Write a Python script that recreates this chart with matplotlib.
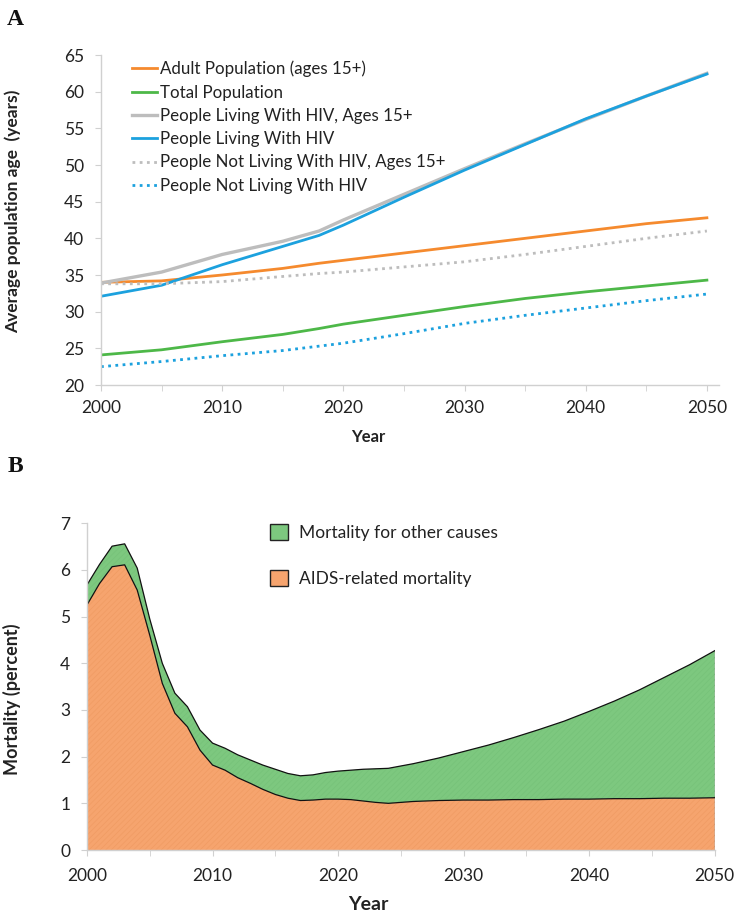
import numpy as np
import matplotlib.pyplot as plt
from matplotlib.patches import Patch

plt.rcParams['font.family'] = ['Lato', 'DejaVu Sans']
plt.rcParams['hatch.linewidth'] = 0.5

# Panel A: average age by population group
years_a = [2000, 2005, 2010, 2015, 2018, 2020, 2025, 2030, 2035, 2040, 2045, 2050]
adult_pop = [34.0, 34.2, 35.0, 35.9, 36.6, 37.0, 38.0, 39.0, 40.0, 41.0, 42.0, 42.8]
total_pop = [24.1, 24.8, 25.9, 26.9, 27.7, 28.3, 29.5, 30.7, 31.8, 32.7, 33.5, 34.3]
plhiv_15 = [33.9, 35.4, 37.8, 39.6, 41.0, 42.5, 46.0, 49.5, 52.9, 56.2, 59.4, 62.5]
plhiv_all = [32.1, 33.6, 36.4, 38.9, 40.4, 41.8, 45.6, 49.3, 52.8, 56.3, 59.4, 62.4]
not_hiv_15 = [33.8, 33.8, 34.1, 34.8, 35.2, 35.4, 36.1, 36.8, 37.8, 38.9, 40.0, 41.0]
not_hiv_all = [22.5, 23.2, 24.0, 24.7, 25.3, 25.7, 27.0, 28.4, 29.5, 30.5, 31.5, 32.4]

# Panel B: mortality among people living with HIV (percent)
years_b = list(range(2000, 2025)) + list(range(2026, 2051, 2))
aids_mort = [5.25, 5.71, 6.07, 6.11, 5.57, 4.60, 3.57, 2.93, 2.64, 2.14,
             1.82, 1.71, 1.55, 1.43, 1.30, 1.19, 1.11, 1.06, 1.07, 1.09,
             1.09, 1.08, 1.05, 1.02, 1.00,
             1.04, 1.06, 1.07, 1.07, 1.08, 1.08, 1.09, 1.09, 1.10, 1.10, 1.11, 1.11, 1.12]
other_mort = [0.43, 0.41, 0.44, 0.45, 0.47, 0.35, 0.43, 0.43, 0.43, 0.43,
              0.47, 0.47, 0.49, 0.50, 0.52, 0.54, 0.53, 0.53, 0.54, 0.57,
              0.60, 0.63, 0.68, 0.72, 0.75,
              0.81, 0.91, 1.04, 1.18, 1.33, 1.50, 1.67, 1.88, 2.09, 2.33, 2.59, 2.86, 3.15]

orange = '#F58A2E'
green = '#4DB848'
grey = '#BDBDBD'
blue = '#1CA1DE'
fill_orange = '#F6A46E'
fill_green = '#7DC87F'
spine_col = '#D0D0D0'
text_col = '#222222'

fig = plt.figure(figsize=(7.34, 9.13), dpi=100)

# ---- Panel A ----
ax1 = fig.add_axes([101 / 734, 1 - 385 / 913, 618 / 734, 330 / 913])
lw = 2.0
dot = (0, (1, 1.6))
ax1.plot(years_a, adult_pop, color=orange, lw=lw, label='Adult Population (ages 15+)')
ax1.plot(years_a, total_pop, color=green, lw=lw, label='Total Population')
ax1.plot(years_a, plhiv_15, color=grey, lw=lw + 0.4, label='People Living With HIV, Ages 15+')
ax1.plot(years_a, plhiv_all, color=blue, lw=lw, label='People Living With HIV')
ax1.plot(years_a, not_hiv_15, color=grey, lw=lw, ls=dot, label='People Not Living With HIV, Ages 15+')
ax1.plot(years_a, not_hiv_all, color=blue, lw=lw, ls=dot, label='People Not Living With HIV')

ax1.set_xlim(2000, 2051)
ax1.set_ylim(20, 65)
ax1.set_xticks([2000, 2010, 2020, 2030, 2040, 2050])
ax1.set_xticks(range(2005, 2050, 10), minor=True)
ax1.set_yticks(range(20, 66, 5))

leg = ax1.legend(loc='upper left', bbox_to_anchor=(0.04, 1.003), frameon=False,
                 fontsize=12.2, handlelength=1.45, handletextpad=0.2,
                 labelspacing=0.43, borderaxespad=0)
for t in leg.get_texts():
    t.set_color(text_col)

ax1.set_xlabel('Year', fontsize=12, fontweight='bold', color=text_col)
ax1.xaxis.set_label_coords(0.432, -0.133)
ax1.set_ylabel('Average population age  (years)', fontsize=12.5, fontweight='bold', color=text_col)
ax1.yaxis.set_label_coords(-0.13, 0.527)

# ---- Panel B ----
ax2 = fig.add_axes([87 / 734, 1 - 850 / 913, 627.7 / 734, 326.7 / 913])
stack = np.vstack([aids_mort, other_mort])
polys = ax2.stackplot(years_b, stack, colors=[fill_orange, fill_green],
                      edgecolor='none', linewidth=0)
polys[0].set_hatch('//////')
polys[0].set_edgecolor('#F09B63')
polys[1].set_hatch('//////')
polys[1].set_edgecolor('#76C279')
top = np.add(aids_mort, other_mort)
ax2.plot(years_b, aids_mort, color='#111111', lw=0.9)
ax2.plot(years_b, top, color='#111111', lw=0.9)
ax2.plot([2050, 2050], [0, top[-1]], color='#111111', lw=0.9)

ax2.set_xlim(2000, 2050)
ax2.set_ylim(0, 7)
ax2.set_xticks([2000, 2010, 2020, 2030, 2040, 2050])
ax2.set_xticks(range(2005, 2050, 10), minor=True)
ax2.set_yticks(range(0, 8))

handles = [Patch(facecolor=fill_green, edgecolor='#222222', lw=1.0),
           Patch(facecolor=fill_orange, edgecolor='#222222', lw=1.0)]
leg2 = ax2.legend(handles, ['Mortality for other causes', 'AIDS-related mortality'],
                  loc='upper left', bbox_to_anchor=(0.28, 1.02), frameon=False,
                  fontsize=12.5, handlelength=1.05, handleheight=1.05,
                  handletextpad=0.65, labelspacing=1.7, borderaxespad=0)
for t in leg2.get_texts():
    t.set_color(text_col)

ax2.set_xlabel('Year', fontsize=14, fontweight='bold', color=text_col)
ax2.xaxis.set_label_coords(0.448, -0.14)
ax2.set_ylabel('Mortality (percent)', fontsize=13, fontweight='bold', color=text_col)
ax2.yaxis.set_label_coords(-0.105, 0.462)

for ax in (ax1, ax2):
    for side in ('top', 'right'):
        ax.spines[side].set_visible(False)
    for side in ('left', 'bottom'):
        ax.spines[side].set_color(spine_col)
        ax.spines[side].set_linewidth(1.0)
    ax.tick_params(axis='both', which='both', direction='out', length=4,
                   color=spine_col, labelcolor=text_col, labelsize=12.5)
    ax.tick_params(axis='y', pad=8)
    ax.tick_params(axis='x', pad=7)

ax2.tick_params(axis='x', pad=9)

fig.text(7 / 734, 1 - 9 / 913, 'A', family=['Liberation Serif'], fontweight='bold',
         fontsize=17, va='top', ha='left', color='#111111')
fig.text(8 / 734, 1 - 456 / 913, 'B', family=['Liberation Serif'], fontweight='bold',
         fontsize=17, va='top', ha='left', color='#111111')

fig.savefig('out.png', dpi=100)
